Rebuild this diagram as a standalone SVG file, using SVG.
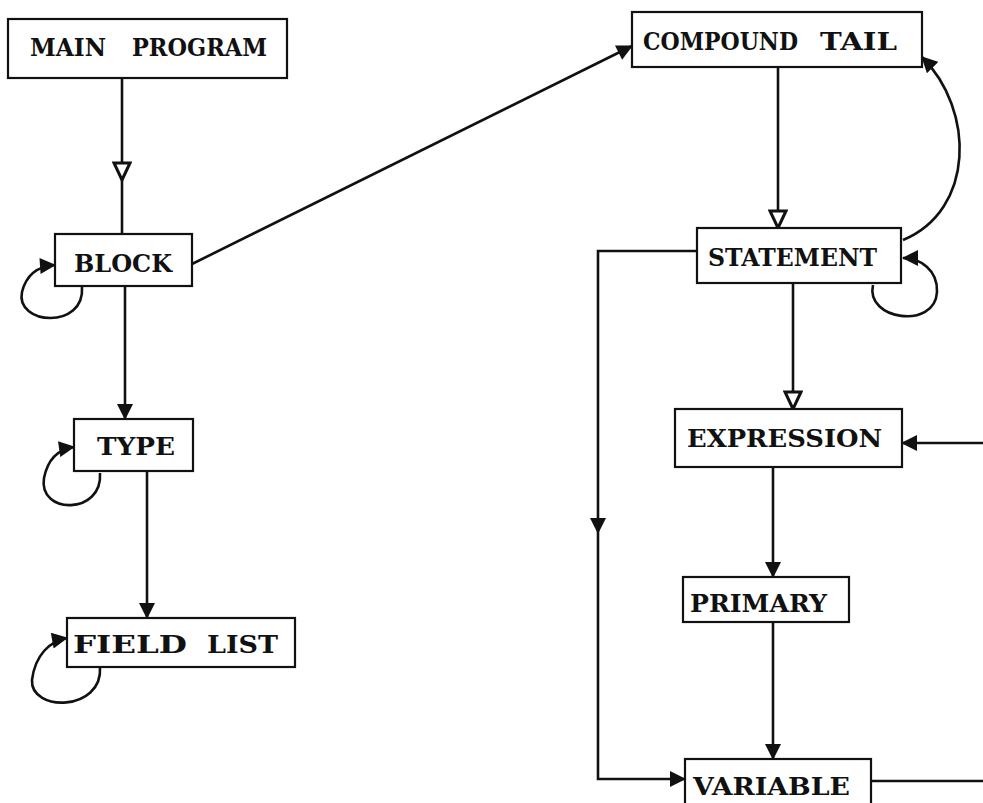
<svg xmlns="http://www.w3.org/2000/svg" width="983" height="803" viewBox="0 0 983 803">
<style>
.box{fill:#fff;stroke:#111;stroke-width:2.2}
.lbl{font-family:"DejaVu Serif","Liberation Serif",serif;font-weight:bold;font-size:24px;fill:#111}
.ln{fill:none;stroke:#111;stroke-width:2.6}
.fa{marker-end:url(#filled)}
.oa{marker-end:url(#open)}
</style>
<defs>
<marker id="filled" markerUnits="userSpaceOnUse" viewBox="0 0 16 16" refX="15" refY="8" markerWidth="17" markerHeight="16" orient="auto">
<polygon points="0,0 16,8 0,16" fill="#111"/>
</marker>
<marker id="open" markerUnits="userSpaceOnUse" viewBox="-2 -2 22 20" refX="17" refY="8" markerWidth="22" markerHeight="20" orient="auto">
<polygon points="0,0 17,8 0,16" fill="#fff" stroke="#111" stroke-width="3"/>
</marker>
</defs>
<rect width="983" height="803" fill="#fff"/>
<g id="connectors">
<path class="ln oa" d="M122 78 V180"/>
<path class="ln" d="M122 180 V234"/>
<path class="ln fa" d="M82 287 C85 330 15 325 22 292 C27 272 40 266 55 265"/>
<path class="ln fa" d="M192 264 L632 46"/>
<path class="ln fa" d="M125 286 V419"/>
<path class="ln fa" d="M100 473 C103 515 38 515 44 478 C48 458 60 449 74 447"/>
<path class="ln fa" d="M147 471 V618"/>
<path class="ln fa" d="M100 667 C103 712 30 712 32 680 C35 655 50 641 67 638"/>
<path class="ln oa" d="M778 67 V228"/>
<path class="ln fa" d="M903 240 C975 210 975 110 922 57"/>
<path class="ln fa" d="M873 285 C865 320 935 330 937 292 C938 270 920 258 903 258"/>
<path class="ln fa" d="M697 251 H598 V533"/>
<path class="ln fa" d="M598 533 V779 H685"/>
<path class="ln oa" d="M793 283 V409"/>
<path class="ln fa" d="M773 467 V577"/>
<path class="ln fa" d="M773 622 V759"/>
<path class="ln" d="M871 781 H983"/>
<path class="ln fa" d="M983 443 H902"/>
</g>
<g id="main-program">
<rect class="box" x="8" y="19" width="279" height="59"/>
<text class="lbl" y="56"><tspan x="30" textLength="76" lengthAdjust="spacingAndGlyphs">MAIN</tspan> <tspan x="132" textLength="135" lengthAdjust="spacingAndGlyphs">PROGRAM</tspan></text>
</g>
<g id="block">
<rect class="box" x="55" y="234" width="137" height="52"/>
<text class="lbl" x="74" y="272" textLength="98" lengthAdjust="spacingAndGlyphs">BLOCK</text>
</g>
<g id="type">
<rect class="box" x="74" y="419" width="119" height="52"/>
<text class="lbl" x="97" y="455" textLength="78" lengthAdjust="spacingAndGlyphs">TYPE</text>
</g>
<g id="field-list">
<rect class="box" x="67" y="618" width="228" height="49"/>
<text class="lbl" y="653"><tspan x="73" textLength="114" lengthAdjust="spacingAndGlyphs">FIELD</tspan> <tspan x="207" textLength="71" lengthAdjust="spacingAndGlyphs">LIST</tspan></text>
</g>
<g id="compound-tail">
<rect class="box" x="632" y="12" width="290" height="55"/>
<text class="lbl" y="50"><tspan x="643" textLength="155" lengthAdjust="spacingAndGlyphs">COMPOUND</tspan> <tspan x="820" textLength="77" lengthAdjust="spacingAndGlyphs">TAIL</tspan></text>
</g>
<g id="statement">
<rect class="box" x="697" y="228" width="204" height="55"/>
<text class="lbl" x="708" y="266" textLength="169" lengthAdjust="spacingAndGlyphs">STATEMENT</text>
</g>
<g id="expression">
<rect class="box" x="675" y="409" width="227" height="58"/>
<text class="lbl" x="687" y="447" textLength="195" lengthAdjust="spacingAndGlyphs">EXPRESSION</text>
</g>
<g id="primary">
<rect class="box" x="683" y="577" width="166" height="45"/>
<text class="lbl" x="690" y="612" textLength="137" lengthAdjust="spacingAndGlyphs">PRIMARY</text>
</g>
<g id="variable">
<rect class="box" x="685" y="759" width="186" height="52"/>
<text class="lbl" x="693" y="795" textLength="157" lengthAdjust="spacingAndGlyphs">VARIABLE</text>
</g>
</svg>
